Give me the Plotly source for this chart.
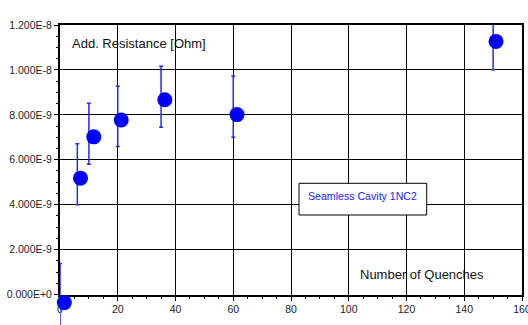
import plotly.graph_objects as go

# --- data ---
quenches = [1.5, 7.1, 11.7, 21.2, 36.3, 61.3, 151.0]          # marker x
resistance = [-0.36e-9, 5.18e-9, 7.02e-9, 7.77e-9, 8.67e-9, 8.01e-9, 11.27e-9]
err_x = [0, 6, 10, 20, 35, 60, 150]                            # error-bar x
err_upper = [1.38e-9, 6.71e-9, 8.52e-9, 9.27e-9, 10.16e-9, 9.72e-9, 12.75e-9]
err_lower = [-2.1e-9, 4.00e-9, 5.80e-9, 6.59e-9, 7.45e-9, 7.00e-9, 10.01e-9]

x_ticks = [0, 20, 40, 60, 80, 100, 120, 140, 160]
y_ticks = [0, 2e-9, 4e-9, 6e-9, 8e-9, 1.0e-8, 1.2e-8]
y_tick_labels = ["0.000E+0", "2.000E-9", "4.000E-9", "6.000E-9",
                 "8.000E-9", "1.000E-8", "1.200E-8"]

y_label = "Add. Resistance [Ohm]"
x_label = "Number of Quenches"
series_name = "Seamless Cavity 1NC2"

FONT = "Liberation Sans, Arial, sans-serif"

W, H = 528, 325
M_L, M_R, M_T = 60, 6, 25
AXIS_BOTTOM_PX = 294.5
area_h = H - M_T
y_dom0 = (H - AXIS_BOTTOM_PX) / area_h
Y_MAX = 1.2e-8
# overlay axis with same scale, extended below zero so low points are not hidden
y2_min = -(H - AXIS_BOTTOM_PX) / (AXIS_BOTTOM_PX - M_T) * Y_MAX

fig = go.Figure()

# empty trace so the main (gridded) subplot is created
fig.add_trace(go.Scatter(x=[None], y=[None], xaxis="x", yaxis="y",
                         mode="markers", showlegend=False, hoverinfo="skip"))

fig.add_trace(go.Scatter(
    x=err_x, y=resistance, mode="markers", xaxis="x2", yaxis="y2",
    marker=dict(size=1, color="rgba(0,0,0,0)"),
    error_y=dict(type="data", symmetric=False,
                 array=[u - v for u, v in zip(err_upper, resistance)],
                 arrayminus=[v - l for v, l in zip(resistance, err_lower)],
                 color="#2a2aff", thickness=1.5, width=2),
    cliponaxis=False, showlegend=False, hoverinfo="skip"))

fig.add_trace(go.Scatter(
    x=quenches, y=resistance, mode="markers", name=series_name,
    xaxis="x2", yaxis="y2",
    marker=dict(size=15, color="#0000ff", line=dict(width=0)),
    cliponaxis=False, showlegend=False))

axis_common = dict(
    showgrid=True, gridcolor="#000000", gridwidth=1,
    showline=True, linecolor="#000000", linewidth=2, mirror=True,
    ticks="outside", ticklen=4, tickcolor="#000000", tickwidth=1,
    zeroline=False, automargin=False, ticklabeloverflow="allow",
    tickfont=dict(family=FONT, size=10.5, color="#222222"),
)

fig.update_layout(
    width=W, height=H,
    margin=dict(l=M_L, r=M_R, t=M_T, b=0, autoexpand=False),
    paper_bgcolor="white", plot_bgcolor="rgba(0,0,0,0)",
    font=dict(family=FONT),
    xaxis=dict(range=[0, 160], tickvals=x_ticks,
               ticktext=[str(v) for v in x_ticks], domain=[0, 1],
               anchor="y",
               minor=dict(dtick=5, ticks="outside", ticklen=2,
                          tickcolor="#000000", showgrid=False),
               **axis_common),
    yaxis=dict(range=[0, Y_MAX], tickvals=y_ticks, ticktext=y_tick_labels,
               domain=[y_dom0, 1], anchor="x",
               minor=dict(dtick=0.5e-9, ticks="outside", ticklen=2,
                          tickcolor="#000000", showgrid=False),
               **axis_common),
    xaxis2=dict(range=[0, 160], domain=[0, 1], anchor="y2",
                visible=False, showgrid=False, zeroline=False),
    yaxis2=dict(range=[y2_min, Y_MAX], domain=[0, 1], anchor="x2",
                visible=False, showgrid=False, zeroline=False),
)


def py(pixel_y):
    return (H - pixel_y) / area_h


def px(pixel_x):
    return (pixel_x - M_L) / (W - M_L - M_R)


fig.add_annotation(text=y_label, xref="paper", yref="paper",
                   x=px(70), y=py(43), xanchor="left", yanchor="middle",
                   showarrow=False,
                   font=dict(family=FONT, size=13, color="#111111"))
fig.add_annotation(text=x_label, xref="paper", yref="paper",
                   x=px(357.5), y=py(274), xanchor="left", yanchor="middle",
                   showarrow=False,
                   font=dict(family=FONT, size=13, color="#111111"))

fig.add_shape(type="rect", xref="paper", yref="paper",
              x0=px(299), x1=px(426.7), y0=py(215), y1=py(183.3),
              fillcolor="white", line=dict(color="black", width=1),
              layer="above")
fig.add_annotation(text=series_name, xref="paper", yref="paper",
                   x=px(305.5), y=py(195.5), xanchor="left", yanchor="middle",
                   showarrow=False,
                   font=dict(family=FONT, size=10.6, color="#2020ff"))

fig.write_html("out.html",
               config={"displayModeBar": False},
               post_script="document.body.style.margin='0px';")
